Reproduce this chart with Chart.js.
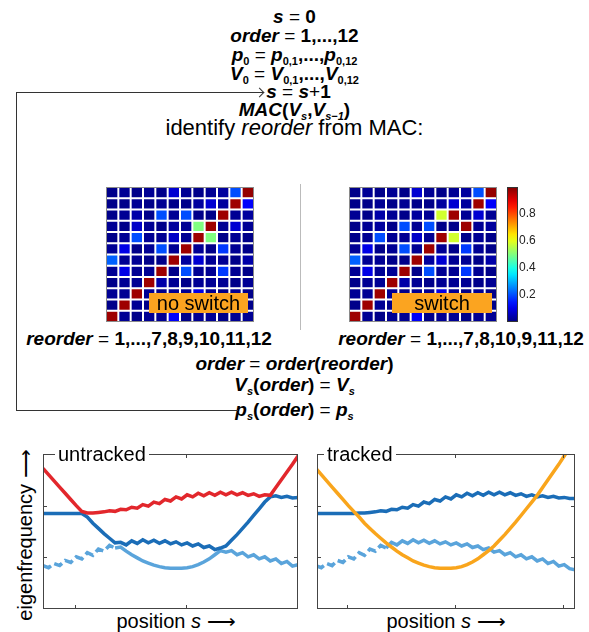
<!DOCTYPE html>
<html>
<head>
<meta charset="utf-8">
<script src="https://cdn.jsdelivr.net/npm/chart.js@4.4.1/dist/chart.umd.min.js"></script>
<style>
body { margin: 0; background: #fff; width: 589px; height: 632px; overflow: hidden; position: relative;
       font-family: "Liberation Sans", Arial, sans-serif; color: #000; }
.ln { position: absolute; left: 0; width: 589px; text-align: center; font-weight: bold; font-size: 19px;
      line-height: 22px; white-space: nowrap; }
.ln i { font-style: italic; }
.ln sub { font-size: 11px; vertical-align: -4px; line-height: 0; }
.eq { font-weight: normal; }
.reg { font-weight: normal; font-size: 22px; }
.box { position: absolute; }
.rule { position: absolute; background: #333; }
.tag { position: absolute; height: 20px; background: #fba420; font-size: 20px; line-height: 20px; text-align: center; }
.ttl { position: absolute; font-size: 20px; line-height: 20px; background: #fff; padding: 0 3px; }
.xl { position: absolute; width: 200px; text-align: center; font-size: 20px; line-height: 22px; white-space: nowrap; }
</style>
</head>
<body>

<!-- flow chart text -->
<div class="ln" style="top:6px"><i>s</i> <span class="eq">=</span> 0</div>
<div class="ln" style="top:25px"><i>order</i> <span class="eq">=</span> 1,...,12</div>
<div class="ln" style="top:44px"><i>p</i><sub>0</sub> <span class="eq">=</span> <i>p</i><sub>0,1</sub>,...,<i>p</i><sub>0,12</sub></div>
<div class="ln" style="top:63px"><i>V</i><sub>0</sub> <span class="eq">=</span> <i>V</i><sub>0,1</sub>,...,<i>V</i><sub>0,12</sub></div>
<div class="ln" style="top:81px;left:4px"><i>s</i> <span class="eq">=</span> <i>s</i><span class="eq">+</span>1</div>
<div class="ln" style="top:99px"><i>MAC</i>(<i>V<sub>s</sub></i>,<i>V<sub>s&minus;1</sub></i>)</div>
<div class="ln reg" style="top:117px">identify <i>reorder</i> from MAC:</div>

<div class="ln" style="top:328px;left:0;width:298px"><i>reorder</i> <span class="eq">=</span> 1,...,7,8,9,10,11,12</div>
<div class="ln" style="top:328px;left:312px;width:298px"><i>reorder</i> <span class="eq">=</span> 1,...,7,8,10,9,11,12</div>
<div class="ln" style="top:353px"><i>order</i> <span class="eq">=</span> <i>order</i>(<i>reorder</i>)</div>
<div class="ln" style="top:374px"><i>V<sub>s</sub></i>(<i>order</i>) <span class="eq">=</span> <i>V<sub>s</sub></i></div>
<div class="ln" style="top:399px"><i>p<sub>s</sub></i>(<i>order</i>) <span class="eq">=</span> <i>p<sub>s</sub></i></div>

<!-- feedback loop -->
<div class="rule" style="left:16px;top:92px;width:247px;height:1px"></div>
<div class="box" style="left:256px;top:89px;width:6px;height:6px;border-top:1px solid #333;border-right:1px solid #333;transform:rotate(45deg)"></div>
<div class="rule" style="left:16px;top:92px;width:1px;height:319px"></div>
<div class="rule" style="left:16px;top:410px;width:222px;height:1px"></div>
<div class="rule" style="left:300px;top:184px;width:1px;height:146px;background:#bbb"></div>

<!-- MAC matrices -->
<div class="box" style="left:106px;top:187px"><canvas id="macL" width="148" height="135"></canvas></div>
<div class="box" style="left:349px;top:187px"><canvas id="macR" width="148" height="135"></canvas></div>
<div class="box" style="left:507px;top:177px"><canvas id="cbar" width="43" height="155"></canvas></div>
<div class="tag" style="left:149px;top:293px;width:99px">no switch</div>
<div class="tag" style="left:392px;top:293px;width:100px">switch</div>

<!-- eigenfrequency plots -->
<div class="box" style="left:43px;top:454px"><canvas id="untracked" width="255" height="155"></canvas></div>
<div class="box" style="left:317px;top:454px"><canvas id="tracked" width="258" height="155"></canvas></div>
<div class="ttl" style="left:55px;top:444px">untracked</div>
<div class="ttl" style="left:324px;top:444px">tracked</div>
<div class="xl" style="left:-75px;top:524px;transform:rotate(-90deg)">eigenfrequency &#x27F6;</div>
<div class="xl" style="left:76px;top:610px">position <i>s</i> &#x27F6;</div>
<div class="xl" style="left:346px;top:610px">position <i>s</i> &#x27F6;</div>

<script>
// MAC values, top row first, columns = modes 1..12
const modeCols = ['1','2','3','4','5','6','7','8','9','10','11','12'];
const macNoSwitch = [
  [.01,.02,.01,.02,.01,.08,.02,.01,.02,.03,.20,.98],
  [.01,.01,.02,.01,.02,.01,.01,.03,.08,.03,.97,.12],
  [.01,.02,.04,.01,.20,.02,.20,.01,.01,.97,.02,.03],
  [.02,.01,.07,.02,.01,.03,.02,.50,.97,.02,.08,.02],
  [.01,.02,.20,.02,.02,.07,.02,.97,.50,.01,.02,.01],
  [.02,.10,.01,.02,.20,.02,.97,.02,.01,.18,.02,.01],
  [.22,.02,.02,.01,.01,.97,.03,.08,.02,.02,.01,.04],
  [.02,.10,.02,.02,.97,.01,.20,.02,.02,.18,.02,.01],
  [.01,.02,.02,.97,.04,.02,.01,.02,.02,.02,.01,.02],
  [.02,.02,.97,.02,.01,.02,.02,.10,.02,.01,.02,.01],
  [.01,.97,.02,.01,.02,.01,.02,.02,.01,.02,.02,.01],
  [.97,.02,.01,.02,.02,.12,.01,.02,.02,.01,.02,.02]
];
const macSwitch = [
  [.01,.02,.01,.02,.01,.08,.02,.01,.02,.03,.20,.98],
  [.01,.01,.02,.01,.02,.01,.01,.03,.08,.03,.97,.12],
  [.02,.01,.04,.02,.01,.03,.02,.58,.97,.02,.08,.02],
  [.01,.02,.03,.01,.20,.02,.20,.01,.01,.97,.02,.03],
  [.01,.02,.20,.02,.02,.07,.02,.97,.58,.01,.02,.01],
  [.02,.10,.01,.02,.20,.02,.97,.02,.01,.18,.02,.01],
  [.22,.02,.02,.01,.01,.97,.03,.08,.02,.02,.01,.04],
  [.02,.10,.02,.02,.97,.01,.20,.02,.02,.18,.02,.01],
  [.01,.02,.02,.97,.04,.02,.01,.02,.02,.02,.01,.02],
  [.02,.02,.97,.02,.01,.02,.02,.10,.02,.01,.02,.01],
  [.01,.97,.02,.01,.02,.01,.02,.02,.01,.02,.02,.01],
  [.97,.02,.01,.02,.02,.12,.01,.02,.02,.01,.02,.02]
];
const cbarRange = [0, 1];
const cbarTicks = [0.2, 0.4, 0.6, 0.8];

// eigenfrequency curves vs position s
const posX = [0.70,0.75,0.80,0.85,0.90,0.95,1.00,1.05,1.10,1.15,1.20,1.25,1.30,1.35,1.40,1.45,1.50,
  1.55,1.60,1.65,1.70,1.75,1.80,1.85,1.90,1.95,2.00,2.05,2.10,2.15,2.20,2.25,2.30,2.35,2.40,2.45,
  2.50,2.55,2.60,2.65,2.70,2.75,2.80,2.85,2.90,2.95,3.00,3.05,3.10];
const freqUpper = [1.85,1.85,1.85,1.85,1.85,1.85,1.85,1.85,1.86,1.86,1.87,1.88,1.90,1.89,1.93,1.92,1.97,
  1.95,2.02,1.99,2.07,2.04,2.12,2.09,2.17,2.13,2.21,2.17,2.24,2.19,2.25,2.20,2.26,2.21,2.26,2.21,
  2.25,2.20,2.23,2.18,2.21,2.17,2.19,2.16,2.18,2.15,2.16,2.14,2.14];
const freqLower = [0.84,0.80,0.88,0.84,0.94,0.90,1.01,0.97,1.09,1.04,1.16,1.12,1.23,1.18,1.29,1.24,1.32,
  1.27,1.34,1.28,1.33,1.27,1.32,1.26,1.30,1.24,1.28,1.22,1.26,1.19,1.22,1.15,1.18,1.10,1.13,1.05,
  1.09,1.01,1.05,0.97,1.01,0.93,0.97,0.88,0.92,0.83,0.86,0.78,0.76];
const freqSweep = [2.72,2.60,2.48,2.36,2.24,2.12,2.00,1.89,1.78,1.66,1.56,1.46,1.37,1.28,1.20,1.12,1.05,
  0.99,0.93,0.89,0.85,0.82,0.80,0.79,0.79,0.79,0.80,0.82,0.86,0.91,0.97,1.05,1.13,1.22,1.33,1.44,
  1.56,1.68,1.81,1.94,2.07,2.20,2.35,2.50,2.65,2.80,2.96,3.12,3.28];
const xTicks = [1, 2, 3];
const yTicks = [1, 2];
const yRange = [0, 3];

const RED = '#e2272c', BLUE = '#1b6db7', LIGHT = '#5aa4db', ORANGE = '#f9a51c';

function jet(v) {
  const c = t => Math.round(255 * Math.max(0, Math.min(1, 1.5 - Math.abs(t))));
  return `rgb(${c(4 * v - 3)},${c(4 * v - 2)},${c(4 * v - 1)})`;
}

const frame = color => ({
  id: 'frame',
  afterDraw(chart) {
    const a = chart.chartArea, c = chart.ctx;
    c.save();
    c.strokeStyle = color;
    c.lineWidth = 1;
    c.strokeRect(a.left + 0.5, a.top + 0.5, a.right - a.left - 1, a.bottom - a.top - 1);
    c.restore();
  }
});

// inward ticks on all four sides, like the original matlab axes
const boxTicks = {
  id: 'boxTicks',
  afterDraw(chart) {
    const a = chart.chartArea, c = chart.ctx;
    const sx = chart.scales.x, sy = chart.scales.y;
    c.save();
    c.strokeStyle = '#444';
    c.lineWidth = 1;
    c.beginPath();
    xTicks.forEach(v => {
      const px = Math.round(sx.getPixelForValue(v)) - 0.5;
      c.moveTo(px, a.bottom); c.lineTo(px, a.bottom - 4);
      c.moveTo(px, a.top); c.lineTo(px, a.top + 4);
    });
    yTicks.forEach(v => {
      const py = Math.round(sy.getPixelForValue(v)) + 0.5;
      c.moveTo(a.left, py); c.lineTo(a.left + 4, py);
      c.moveTo(a.right, py); c.lineTo(a.right - 4, py);
    });
    c.stroke();
    c.strokeRect(a.left + 0.5, a.top + 0.5, a.right - a.left - 1, a.bottom - a.top - 1);
    c.restore();
  }
};

function macChart(id, rows) {
  const datasets = rows.map((row, i) => ({
    data: row.map(() => [i + 1 - 0.41, i + 1 + 0.41]),
    backgroundColor: row.map(jet),
    borderWidth: 0,
    grouped: false,
    barPercentage: 0.84,
    categoryPercentage: 1
  }));
  new Chart(document.getElementById(id), {
    type: 'bar',
    data: { labels: modeCols, datasets: datasets },
    options: {
      responsive: false,
      animation: false,
      layout: { padding: 0 },
      plugins: { legend: { display: false }, tooltip: { enabled: false } },
      scales: {
        x: { display: false },
        y: { display: false, min: 0.5, max: 12.5, reverse: true }
      }
    },
    plugins: [frame('#8a8a8a')]
  });
}

function colorBar() {
  new Chart(document.getElementById('cbar'), {
    type: 'bar',
    data: {
      labels: [''],
      datasets: [{
        data: [cbarRange],
        borderWidth: 0,
        barPercentage: 1,
        categoryPercentage: 1,
        backgroundColor: ctx => {
          const a = ctx.chart.chartArea;
          if (!a) return '#000080';
          const g = ctx.chart.ctx.createLinearGradient(0, a.bottom, 0, a.top);
          for (let k = 0; k <= 20; k++) g.addColorStop(k / 20, jet(k / 20));
          return g;
        }
      }]
    },
    options: {
      responsive: false,
      animation: false,
      layout: { padding: { top: 10, bottom: 10, left: 0, right: 0 } },
      plugins: { legend: { display: false }, tooltip: { enabled: false } },
      scales: {
        x: { display: false },
        y: {
          position: 'right',
          min: cbarRange[0], max: cbarRange[1],
          afterBuildTicks: s => { s.ticks = cbarTicks.map(v => ({ value: v })); },
          afterFit: s => { s.width = 32; },
          grid: { display: false, drawTicks: false, tickLength: 0 },
          border: { display: false },
          ticks: { padding: 1, color: '#222', font: { family: 'Liberation Sans', size: 12 },
                   callback: v => v.toFixed(1) }
        }
      }
    },
    plugins: [frame('#333')]
  });
}

function freqChart(id, series, xMin, xMax) {
  new Chart(document.getElementById(id), {
    type: 'line',
    data: {
      datasets: series.map(s => ({
        data: posX.map((x, i) => ({ x: x, y: s.values[i] })),
        borderColor: s.color,
        borderWidth: 3.5,
        pointRadius: 0,
        tension: 0,
        segment: s.dash ? { borderDash: c => c.p0.parsed.x < 1.32 ? [9, 4] : undefined } : undefined
      }))
    },
    options: {
      responsive: false,
      animation: false,
      layout: { padding: 0 },
      plugins: { legend: { display: false }, tooltip: { enabled: false } },
      scales: {
        x: { type: 'linear', display: false, min: xMin, max: xMax },
        y: { display: false, min: yRange[0], max: yRange[1] }
      }
    },
    plugins: [boxTicks]
  });
}

macChart('macL', macNoSwitch);
macChart('macR', macSwitch);
colorBar();

// untracked: modes simply sorted by frequency at every position
const sorted = posX.map((x, i) => [freqUpper[i], freqLower[i], freqSweep[i]].sort((a, b) => a - b));
freqChart('untracked', [
  { values: sorted.map(v => v[2]), color: RED },
  { values: sorted.map(v => v[1]), color: BLUE },
  { values: sorted.map(v => v[0]), color: LIGHT, dash: true }
], 0.70, 3.0);

freqChart('tracked', [
  { values: freqSweep, color: ORANGE },
  { values: freqUpper, color: BLUE },
  { values: freqLower, color: LIGHT, dash: true }
], 0.71, 3.1);
</script>
</body>
</html>
